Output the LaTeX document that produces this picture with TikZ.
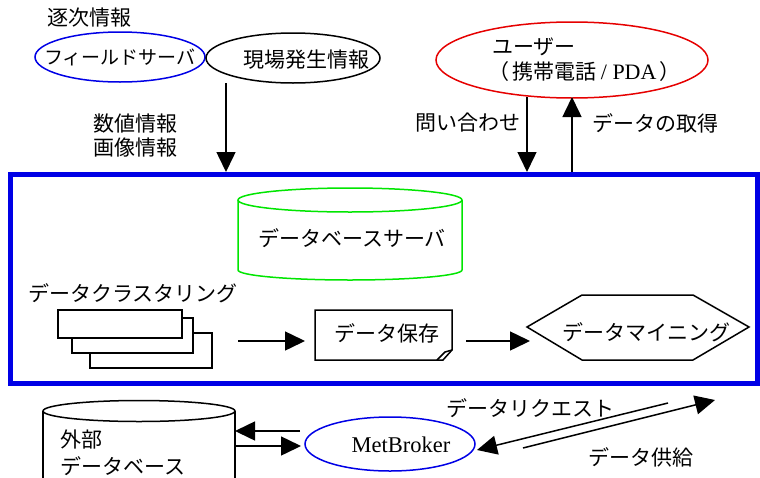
\documentclass[tikz,border=0pt]{standalone}
\usepackage{fontspec}
\setmainfont{Noto Sans CJK JP}
\newfontfamily\lserif{Liberation Serif}
\usetikzlibrary{arrows.meta,shapes.geometric}
\definecolor{myblue}{RGB}{0,0,230}
\definecolor{mygreen}{RGB}{0,230,0}
\definecolor{myred}{RGB}{230,0,0}
\begin{document}
\begin{tikzpicture}[x=1pt,y=-1pt,
  txt/.style={font=\fontsize{21}{24}\selectfont, inner sep=0pt},
  oval/.style={ellipse, draw, line width=1.5pt, inner sep=0pt},
  arr/.style={line width=1.5pt, -{Triangle[length=20pt,width=19pt]}},
  shp/.style={line width=1.5pt}]
\useasboundingbox (0,0) rectangle (760,477);
\fill[white] (0,0) rectangle (760,477);

% top-left
\node[txt] (seq) at (89,18) {逐次情報};
\node[oval, draw=myblue, minimum width=170pt, minimum height=50pt] (fs) at (120,57) {};
\node[txt, font=\fontsize{19}{22}\selectfont] (fst) at (fs.center) {フィールドサーバ};
\node[oval, minimum width=174pt, minimum height=50pt] (gen) at (293,58) {};
\node[txt] (gent) at (306,60) {現場発生情報};
\node[txt] (num) at (135,124) {数値情報};
\node[txt] (img) at (135,148) {画像情報};

% user
\node[oval, draw=myred, minimum width=272pt, minimum height=76pt] (user) at (572,60) {};
\node[txt, anchor=west] (usert) at (492,47) {ユーザー};
\node[txt, anchor=west] (usert2) at (488,72) {（\hspace{3pt}携帯電話 {\lserif\fontsize{22}{24}\selectfont /\ PDA}\hspace{3pt}）};
\node[txt] (ask) at (468,123) {問い合わせ};
\node[txt] (get) at (655,123) {データの取得};

% system box
\node[draw=myblue, line width=5pt, minimum width=747pt, minimum height=208.5pt, inner sep=0pt] (sys) at (383.5,278.75) {};

\coordinate (a1s) at (226,83);
\coordinate (a1e) at (226,172);
\coordinate (a2s) at (527,97);
\coordinate (a2e) at (527,172);
\coordinate (a3s) at (572,172);
\coordinate (a3e) at (572,97);
\draw[arr] (a1s) -- (a1e);
\draw[arr] (a2s) -- (a2e);
\draw[arr] (a3s) -- (a3e);

% DB server cylinder
\draw[mygreen, shp] (350,200) ellipse [x radius=112pt, y radius=12pt];
\draw[mygreen, shp] (238,200) -- (238,270) arc[start angle=180, end angle=360, x radius=112pt, y radius=10pt] -- (462,200);
\node[txt] (dbs) at (352,238) {データベースサーバ};

% clustering
\node[txt] (clt) at (133,293) {データクラスタリング};
\draw[shp, fill=white] (90,333) rectangle (212,368);
\draw[shp, fill=white] (72,318) rectangle (193,353);
\draw[shp, fill=white] (58,310) rectangle (182,338);
\coordinate (c1) at (238,341);

% data store document
\draw[shp] (315,310) -- (452,310) -- (452,350) -- (443,360) -- (315,360) -- cycle;
\draw[shp] (452,350) -- (445,352) -- (437,360);
\node[txt] (store) at (387,333) {データ保存};
\coordinate (s1) at (305,341);
\coordinate (s2) at (466,341);
\coordinate (m1) at (530,341);

% mining hexagon
\draw[shp] (527,327) -- (582,295) -- (693,295) -- (749,327) -- (693,360) -- (582,360) -- cycle;
\node[txt] (mine) at (646,332) {データマイニング};

\draw[arr] (c1) -- (s1);
\draw[arr] (s2) -- (m1);

% external DB
\draw[shp] (139,411) ellipse [x radius=96pt, y radius=10.5pt];
\draw[shp] (43,411) -- (43,480);
\draw[shp] (235,411) -- (235,480);
\node[txt, anchor=west] (ext1) at (60,440) {外部};
\node[txt, anchor=west] (ext2) at (60,466) {データベース};

% MetBroker
\node[oval, draw=myblue, minimum width=170pt, minimum height=54pt] (mb) at (390,444) {};
\node[inner sep=0pt, font=\lserif\fontsize{22.5}{24}\selectfont] (mbt) at (401,445) {MetBroker};

\coordinate (e1) at (300,431);
\coordinate (e2) at (235,431);
\coordinate (e3) at (235,446);
\coordinate (e4) at (301,446);
\draw[arr] (e1) -- (e2);
\draw[arr] (e3) -- (e4);

\coordinate (r1) at (668,403);
\coordinate (r2) at (477,450);
\coordinate (r3) at (523,448);
\coordinate (r4) at (715,400);
\draw[arr] (r1) -- (r2);
\draw[arr] (r3) -- (r4);
\node[txt] (req) at (530,408) {データリクエスト};
\node[txt] (sup) at (641,457) {データ供給};
\end{tikzpicture}
\end{document}
